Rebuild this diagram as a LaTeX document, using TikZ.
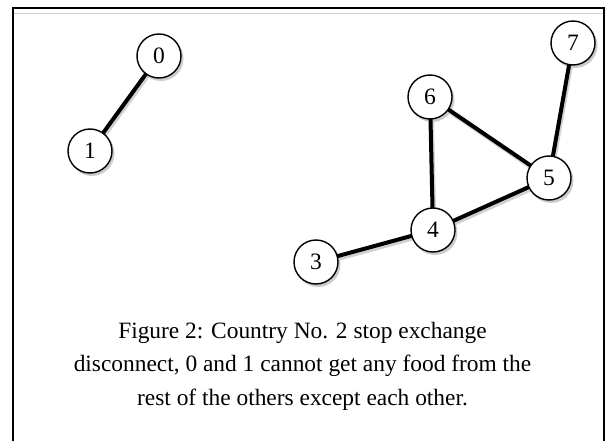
\documentclass[tikz,border=0pt]{standalone}
\usepackage{fontspec}
\setmainfont{Liberation Serif}
\begin{document}
\begin{tikzpicture}[x=1pt,y=-1pt,
  cnode/.style={circle,draw=black,line width=1.4pt,fill=white,minimum size=44pt,inner sep=0pt,font=\fontsize{23.5}{23.5}\selectfont},
  shad/.style={circle,fill=black!20,minimum size=45pt,inner sep=0pt},
  edge/.style={line width=4pt,black},
  eshad/.style={line width=4pt,black!18}]
\useasboundingbox (0,0) rectangle (605,441);
% frame
\draw[line width=2pt] (12.5,442) -- (12.5,8) -- (603.5,8) -- (603.5,442);
\draw[black!18,line width=1.5pt] (13.5,13.5) -- (602.5,13.5);
% node centres
\coordinate (c0) at (159,56);
\coordinate (c1) at (90,151);
\coordinate (c7) at (573,43);
\coordinate (c6) at (430,97);
\coordinate (c5) at (549,178);
\coordinate (c4) at (433,230);
\coordinate (c3) at (316,262);
% shadows of nodes
\foreach \p in {c0,c1,c7,c6,c5,c4,c3}
  \node[shad] at ([shift={(2,2.5)}]\p) {};
% edge shadows
\foreach \a/\b in {c0/c1,c7/c5,c6/c5,c6/c4,c5/c4,c4/c3}
  \draw[eshad] ([shift={(1.5,2.5)}]\a) -- ([shift={(1.5,2.5)}]\b);
% edges
\foreach \a/\b in {c0/c1,c7/c5,c6/c5,c6/c4,c5/c4,c4/c3}
  \draw[edge] (\a) -- (\b);
% nodes
\node[cnode] (n0) at (c0) {0};
\node[cnode] (n1) at (c1) {1};
\node[cnode] (n7) at (c7) {7};
\node[cnode] (n6) at (c6) {6};
\node[cnode] (n5) at (c5) {5};
\node[cnode] (n4) at (c4) {4};
\node[cnode] (n3) at (c3) {3};
% caption
\node[align=center,font=\fontsize{23.4}{33.5}\selectfont] (cap) at (302.5,366)
 {Figure 2: Country No. 2 stop exchange\\ disconnect, 0 and 1 cannot get any food from the\\ rest of the others except each other.};
\end{tikzpicture}
\end{document}
